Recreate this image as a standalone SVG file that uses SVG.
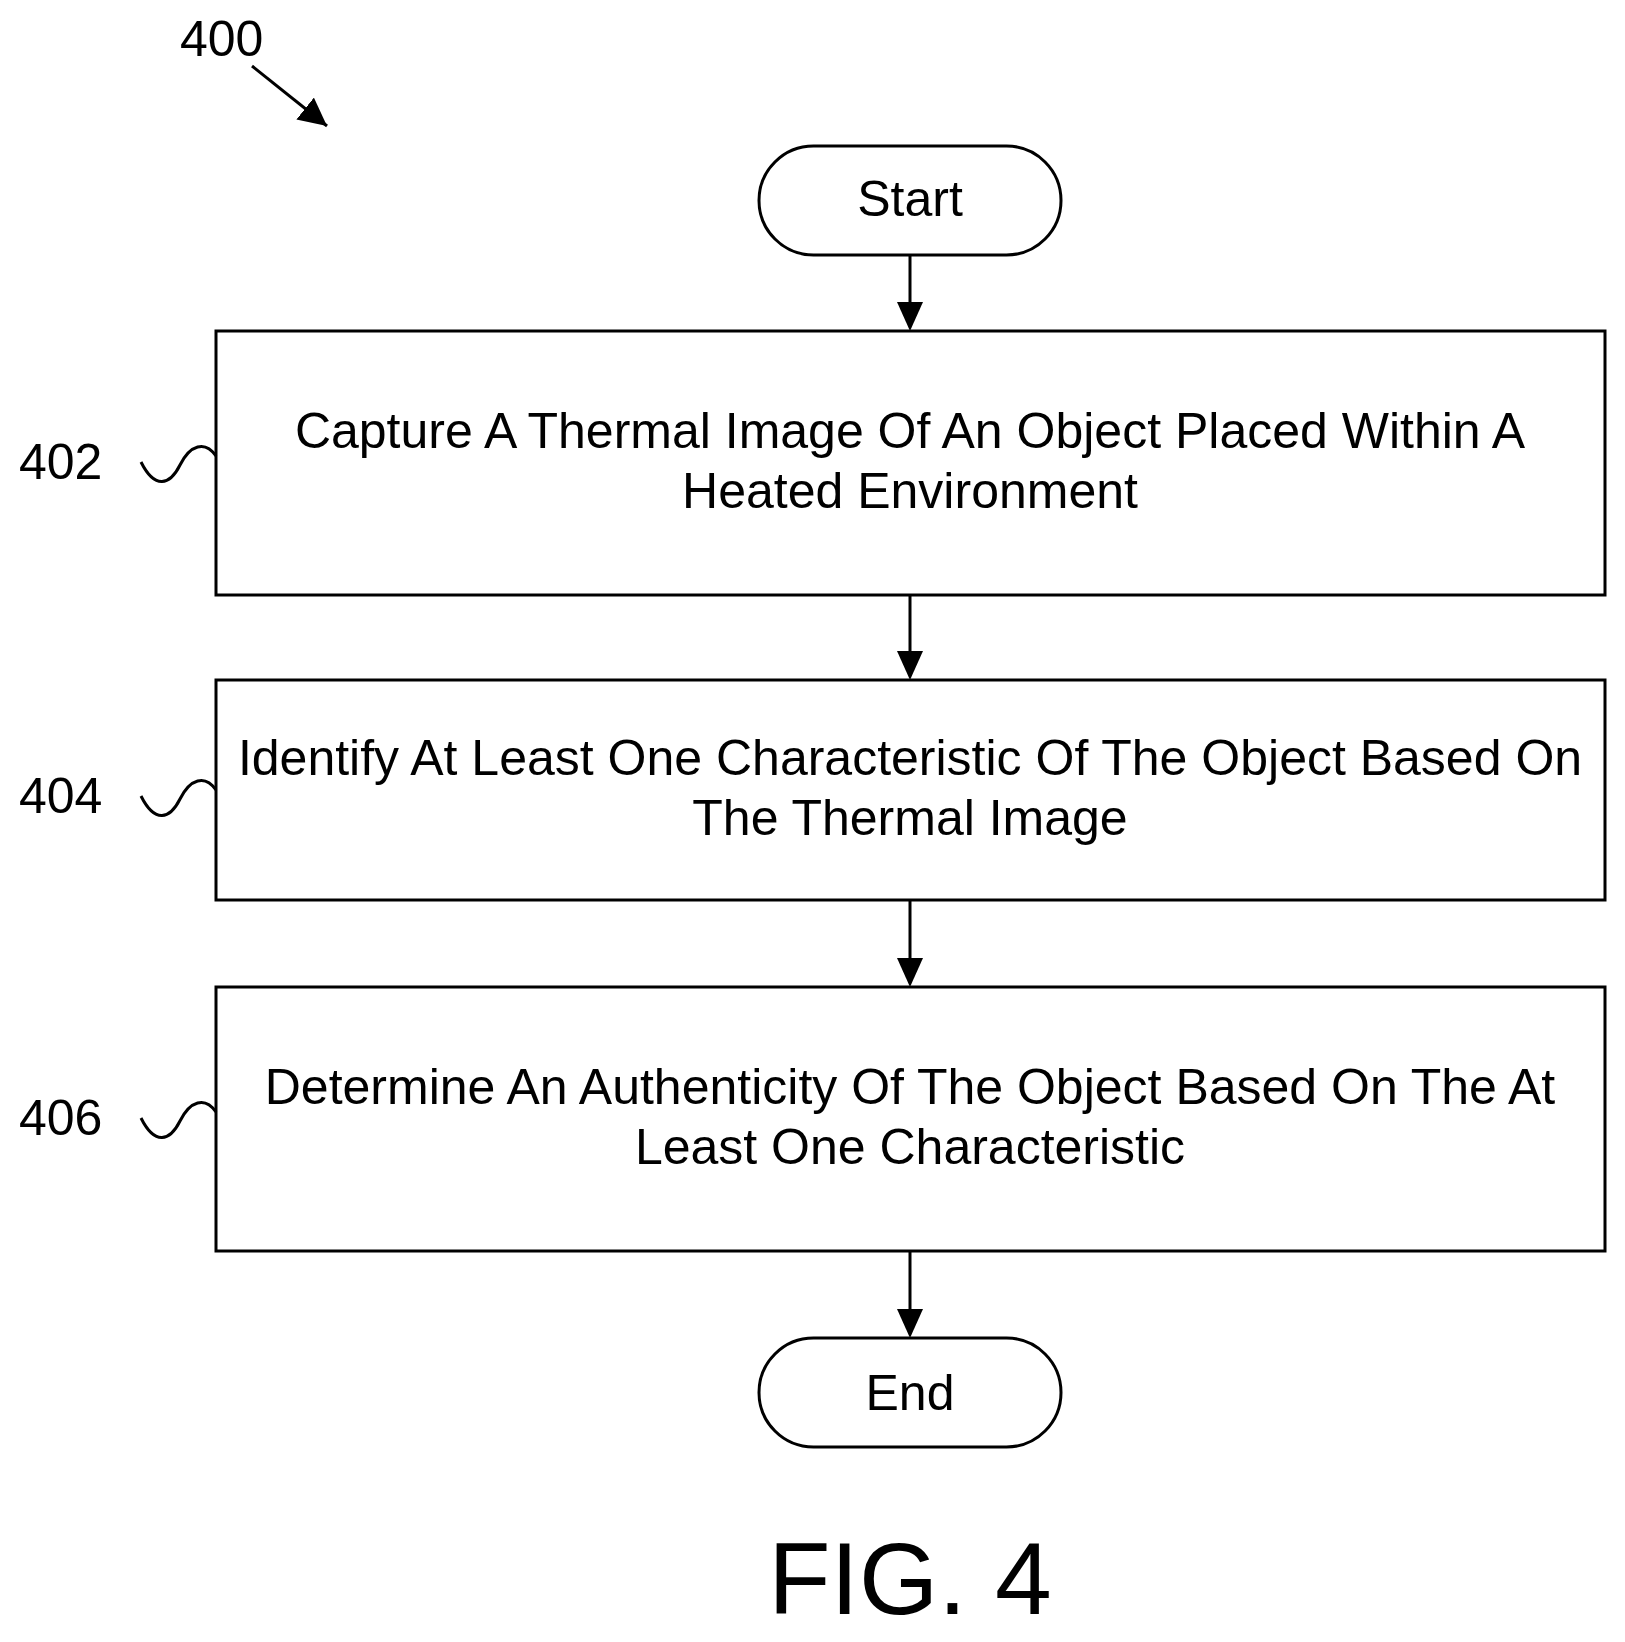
<svg xmlns="http://www.w3.org/2000/svg" width="1625" height="1642" viewBox="0 0 1625 1642">
<style>
.b{fill:#fff;stroke:#000;stroke-width:3}
.t{font-family:"Liberation Sans",Arial,sans-serif;font-size:50px;text-anchor:middle;fill:#000}
.l{font-family:"Liberation Sans",Arial,sans-serif;font-size:50px;fill:#000}
.c{stroke:#000;stroke-width:3;fill:none}
</style>
<defs>
<marker id="h" viewBox="0 0 10 10" refX="10" refY="5" markerWidth="28" markerHeight="28" orient="auto" markerUnits="userSpaceOnUse"><path d="M0,0L10,5L0,10z" fill="#000"/></marker></defs>
<rect width="1625" height="1642" fill="#fff"/>
<g id="ref400"><text class="l" x="180" y="56">400</text><line class="c" x1="252" y1="66" x2="327" y2="126" marker-end="url(#h)"/></g>
<g id="start"><rect class="b" x="759" y="146" width="302" height="109" rx="54.5"/><text class="t" x="910" y="216">Start</text></g>
<g id="n402"><rect class="b" x="216" y="331" width="1389" height="264"/><text class="t" x="910" y="448">Capture A Thermal Image Of An Object Placed Within A</text><text class="t" x="910" y="508">Heated Environment</text>
<text class="l" x="19" y="479">402</text><path class="c" d="M141,462 C155,490 170,485 180,465 C190,445 205,440 216,456"/></g>
<g id="n404"><rect class="b" x="216" y="680" width="1389" height="220"/><text class="t" x="910" y="775">Identify At Least One Characteristic Of The Object Based On</text><text class="t" x="910" y="835">The Thermal Image</text>
<text class="l" x="19" y="813">404</text><path class="c" d="M141,796 C155,824 170,819 180,799 C190,779 205,774 216,790"/></g>
<g id="n406"><rect class="b" x="216" y="987" width="1389" height="264"/><text class="t" x="910" y="1104">Determine An Authenticity Of The Object Based On The At</text><text class="t" x="910" y="1164">Least One Characteristic</text>
<text class="l" x="19" y="1135">406</text><path class="c" d="M141,1118 C155,1146 170,1141 180,1121 C190,1101 205,1096 216,1112"/></g>
<g id="end"><rect class="b" x="759" y="1338" width="302" height="109" rx="54.5"/><text class="t" x="910" y="1410">End</text></g>
<text class="t" x="910" y="1614" style="font-size:102px">FIG. 4</text>
<g id="connectors" stroke="#000" stroke-width="3">
<line x1="910" y1="255" x2="910" y2="306"/><path d="M897,302L923,302L910,331z" stroke="none"/>
<line x1="910" y1="595" x2="910" y2="655"/><path d="M897,651L923,651L910,680z" stroke="none"/>
<line x1="910" y1="900" x2="910" y2="962"/><path d="M897,958L923,958L910,987z" stroke="none"/>
<line x1="910" y1="1251" x2="910" y2="1313"/><path d="M897,1309L923,1309L910,1338z" stroke="none"/>
</g>
</svg>
